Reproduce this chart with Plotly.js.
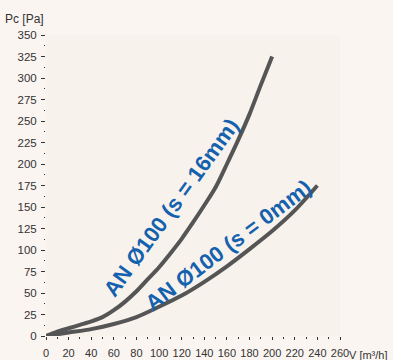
<!DOCTYPE html>
<html><head><meta charset="utf-8">
<script src="https://cdn.plot.ly/plotly-3.0.1.min.js"></script>
<style>html,body{margin:0;padding:0;background:#f9f4f0;}</style>
</head><body>
<div id="chart" style="width:393px;height:360px;"></div>
<script>
// Flow rate V [m³/h] and pressure Pc [Pa]
const flow16 = [0,10,20,30,40,50,60,70,80,90,100,110,120,130,140,150,160,170,180,190,200];
const pres16 = [0,5,9,13,17,22,30,40,52,66,80,96,113,132,152,173,200,228,258,292,325];
const flow0 = [0,20,40,60,80,100,120,140,160,180,200,220,240];
const pres0 = [0,4,8,14,22,34,47,63,81,101,122,146,175];
const label16 = "AN Ø100 (s = 16mm)";
const label0 = "AN Ø100 (s = 0mm)";
const xTicks = [0,20,40,60,80,100,120,140,160,180,200,220,240,260];
const yTicks = [0,25,50,75,100,125,150,175,200,225,250,275,300,325,350];

const lineStyle = {color:'#555555', width:4, shape:'spline', smoothing:0.8};
const traces = [
  {x:flow16, y:pres16, mode:'lines', line:lineStyle, hoverinfo:'skip'},
  {x:flow0, y:pres0, mode:'lines', line:lineStyle, hoverinfo:'skip'}
];
const font = {family:'Liberation Sans, Arial, sans-serif', size:11.5, color:'#333333'};
const layout = {
  width:393, height:360,
  margin:{l:46, r:53, t:35, b:24},
  paper_bgcolor:'#faf5f1', plot_bgcolor:'#f8f2ed',
  showlegend:false, font:font,
  xaxis:{range:[0,260], tickvals:xTicks, ticktext:xTicks.map(String), ticks:'outside', ticklen:3, tickwidth:1, tickcolor:'#333',
         showgrid:false, zeroline:false, showline:false, fixedrange:true, ticklabelstandoff:4,
         tickfont:{family:'Liberation Sans, Arial, sans-serif', size:11, color:'#333333'},
         minor:{tickvals:[10,30,50,70,90,110,130,150,170,190,210,230,250], ticks:'outside', ticklen:1.5, tickcolor:'#333'}},
  yaxis:{range:[0,350], tickvals:yTicks, ticktext:yTicks.map(String), ticks:'outside', ticklen:4, tickwidth:1, tickcolor:'#333',
         showgrid:false, zeroline:false, showline:false, fixedrange:true, ticklabelstandoff:2,
         minor:{dtick:12.5, tick0:0, ticks:'outside', ticklen:1.5, tickcolor:'#333'}},
  annotations:[
    {text:'Pc [Pa]', xref:'paper', yref:'paper', x:0, y:1, xanchor:'right', yanchor:'bottom', xshift:0, yshift:7, showarrow:false,
     font:{family:'Liberation Sans, Arial, sans-serif', size:12, color:'#333333'}},
    {text:'V [m³/h]', xref:'paper', yref:'paper', x:1, y:0, xanchor:'left', yanchor:'top', xshift:7, yshift:-11, showarrow:false,
     font:{family:'Liberation Sans, Arial, sans-serif', size:11, color:'#333333'}},
    {text:'<b>'+label16+'</b>', x:111, y:149, xref:'x', yref:'y', textangle:-54, showarrow:false,
     font:{family:'Liberation Sans, Arial, sans-serif', size:22, color:'#1461ad'}},
    {text:'<b>'+label0+'</b>', x:161, y:105, xref:'x', yref:'y', textangle:-37, showarrow:false,
     font:{family:'Liberation Sans, Arial, sans-serif', size:22, color:'#1461ad'}}
  ]
};
Plotly.newPlot('chart', traces, layout, {displayModeBar:false, staticPlot:true});
</script>
</body></html>
